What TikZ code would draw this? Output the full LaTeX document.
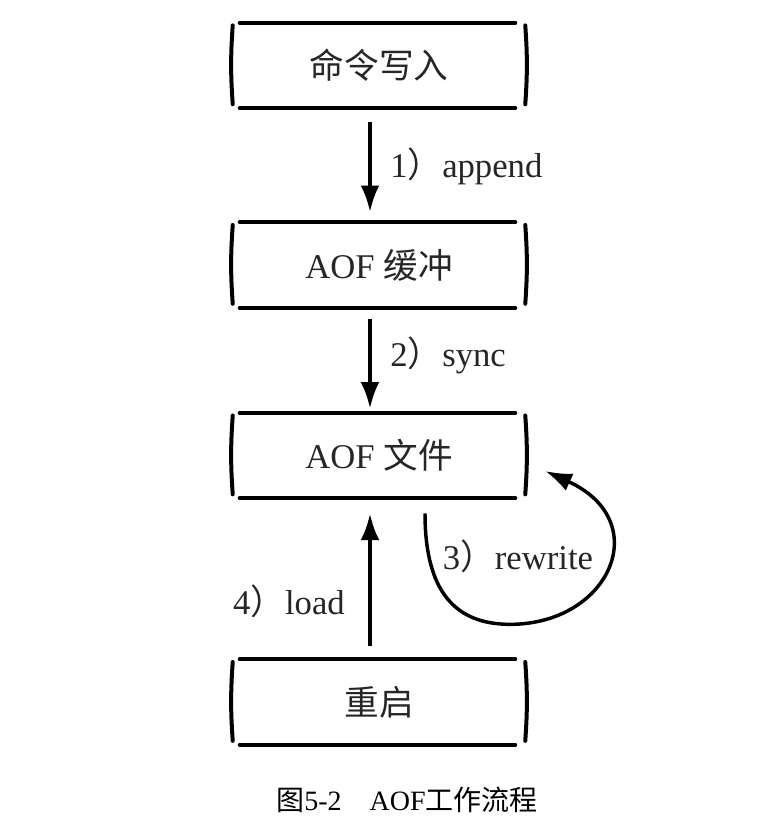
\documentclass[tikz,border=0pt]{standalone}
\usepackage{fontspec}
\setmainfont{Liberation Serif}
\newfontfamily\cjk{Noto Sans CJK SC}
\usetikzlibrary{arrows.meta,positioning,calc}

\tikzset{
  stage/.style={minimum width=219pt, minimum height=63.75pt, inner sep=0pt,
    font=\fontsize{26}{30}\selectfont, text=black!85},
  boxline/.style={line width=3pt, line cap=round},
  flow/.style={-{Latex[length=20pt,width=14pt]}, line width=3pt},
  steplabel/.style={font=\fontsize{26}{30}\selectfont, text=black!85, inner sep=0pt}
}

\begin{document}
\begin{tikzpicture}[x=0.75pt, y=0.75pt]

\useasboundingbox (0,0) rectangle (759,-821);

% Schritte
\node[stage] (cmd) at (379,-65.5) {{\cjk 命令写入}};
\node[stage, below=85.5pt of cmd] (buf) {AOF {\cjk 缓冲}};
\node[stage, below=78.75pt of buf] (file) {AOF {\cjk 文件}};
\node[stage, below=120.75pt of file] (boot) {{\cjk 重启}};

% Rahmen
\foreach \n in {cmd,buf,file,boot} {
  \draw[boxline] ([xshift=5.25pt]\n.north west) -- ([xshift=-7.5pt]\n.north east);
  \draw[boxline] ([xshift=5.25pt]\n.south west) -- ([xshift=-7.5pt]\n.south east);
  \draw[boxline] ([yshift=-2pt]\n.north west) to[bend right=4] ([yshift=3pt]\n.south west);
  \draw[boxline] ([yshift=-2pt]\n.north east) to[bend left=4] ([yshift=3pt]\n.south east);
}

% Pfeile
\draw[flow] ($(cmd.south)+(-9,-14)$) -- ($(buf.north)+(-9,10)$);
\draw[flow] ($(buf.south)+(-9,-11)$) -- ($(file.north)+(-9,4)$);
\draw[flow] ($(boot.north)+(-9,13)$) -- ($(file.south)+(-9,-15)$);

\coordinate (rwlow) at ($(file.south)+(131,-126)$);
\draw[flow, line width=2.6pt] ($(file.south)+(46,-15)$)
  .. controls ($(file.south)+(46,-93)$) and ($(file.south)+(76,-126)$) .. (rwlow)
  .. controls ($(file.south)+(231,-126)$) and ($(file.east)+(130,-65.5)$) .. ($(file.east)+(20,-15.5)$);

% Beschriftungen
\node[steplabel, anchor=west] (lappend) at ($(cmd.south)+(11,-58)$) {1{\cjk ）}append};
\node[steplabel, anchor=west] (lsync) at ($(buf.south)+(11,-48)$) {2{\cjk ）}sync};
\node[steplabel, anchor=east] (lload) at ($(file.south)+(-34,-103)$) {4{\cjk ）}load};
\node[steplabel] (lrewrite) at ($(file.south)+(139,-58)$) {3{\cjk ）}rewrite};

\node[font=\fontsize{21}{24}\selectfont, inner sep=0pt] (caption) at ($(boot.south)+(28,-55)$)
  {{\cjk 图}5-2{\cjk 　}AOF{\cjk 工作流程}};

\end{tikzpicture}
\end{document}
